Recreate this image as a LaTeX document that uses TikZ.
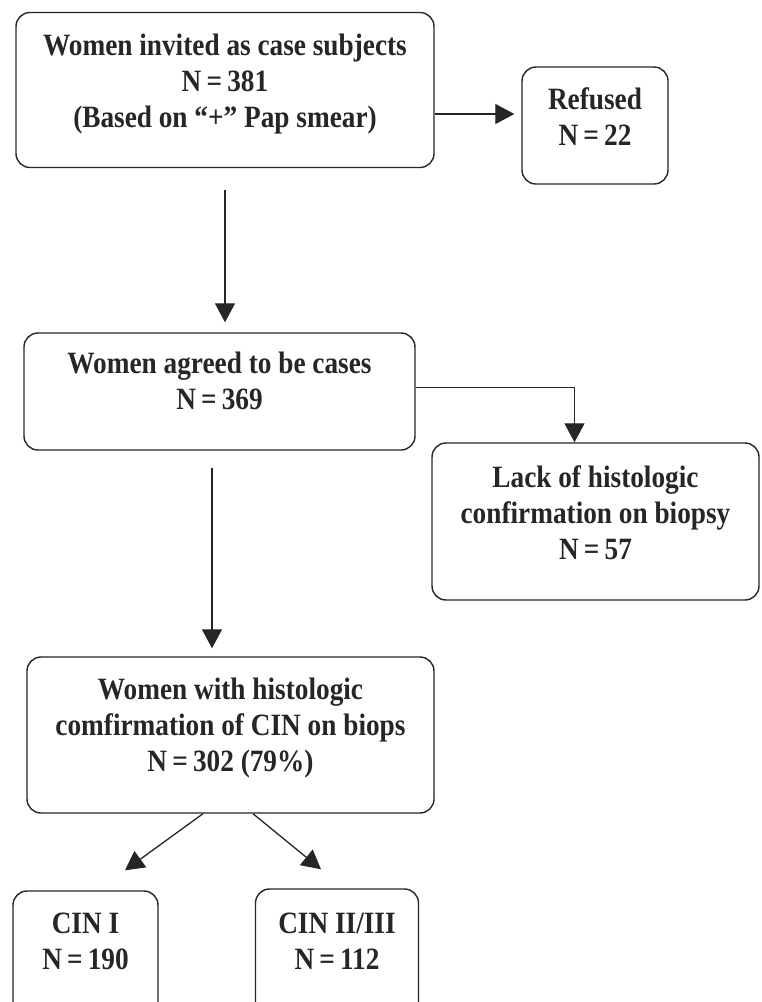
\documentclass[tikz,border=0pt]{standalone}
\usepackage{fontspec}
\setmainfont{Liberation Serif}[FakeStretch=0.88]
\usepackage{xcolor}
\definecolor{inkgray}{HTML}{262626}
\usepackage{tikz}
\usetikzlibrary{positioning, arrows.meta}

\begin{document}
\begin{tikzpicture}[x=1pt, y=-1pt,
        box/.style={draw=inkgray, line width=1.4pt, rounded corners=14pt, align=center,
            text=inkgray, font=\fontsize{31}{36}\selectfont\bfseries, inner sep=0pt},
        arr/.style={draw=inkgray, line width=1.3pt, -{Triangle[length=19pt, width=20pt]}}]
            \useasboundingbox[fill=white] (0, 0) rectangle (762, 1002);
            \node[box, minimum width=418pt, minimum height=155pt, text depth=18pt] (invited) at (225, 90)
                {Women invited as case subjects\\N\,=\,381\\(Based on “+” Pap smear)};
            \node[box, minimum width=146pt, minimum height=117pt, text depth=18pt] (refused) at (595, 125.5)
                {Refused\\N\,=\,22};
            \node[box, minimum width=391pt, minimum height=117pt, text depth=22pt] (agreed) at (219.5, 391.5)
                {Women agreed to be cases\\N\,=\,369};
            \node[box, minimum width=327pt, minimum height=157pt, text depth=18pt] (lack) at (595.5, 521.5)
                {Lack of histologic\\confirmation on biopsy\\N\,=\,57};
            \node[box, minimum width=407pt, minimum height=156pt, text depth=20pt] (confirmed) at (230.5, 735)
                {Women with histologic\\comfirmation of CIN on biops\\N\,=\,302 (79\%)};
            \node[box, minimum width=145pt, minimum height=130pt, text depth=30pt] (cinone) at (85.5, 956)
                {CIN I\\N\,=\,190};
            \node[box, minimum width=163pt, minimum height=134pt, text depth=30pt] (cintwo) at (337, 956)
                {CIN II/III\\N\,=\,112};
            % connectors
            \draw[arr, shorten >=7pt] ([yshift=-24pt]invited.east) -- ([yshift=-24pt]invited.east -| refused.west);
            \draw[arr, shorten <=22pt, shorten >=10pt] (invited.south) -- (invited.south |- agreed.north);
            \draw[arr] ([yshift=4pt]agreed.east) -| ([xshift=-21pt]lack.north);
            \draw[arr, shorten <=17pt, shorten >=8pt] ([xshift=-7.5pt]agreed.south) -- ([xshift=-7.5pt]agreed.south |- confirmed.north);
            \draw[arr] ([xshift=-27.5pt]confirmed.south) -- ([xshift=39.5pt, yshift=20pt]cinone.north);
            \draw[arr] ([xshift=22.5pt]confirmed.south) -- ([xshift=-16pt, yshift=19pt]cintwo.north);
        \end{tikzpicture}
\end{document}
